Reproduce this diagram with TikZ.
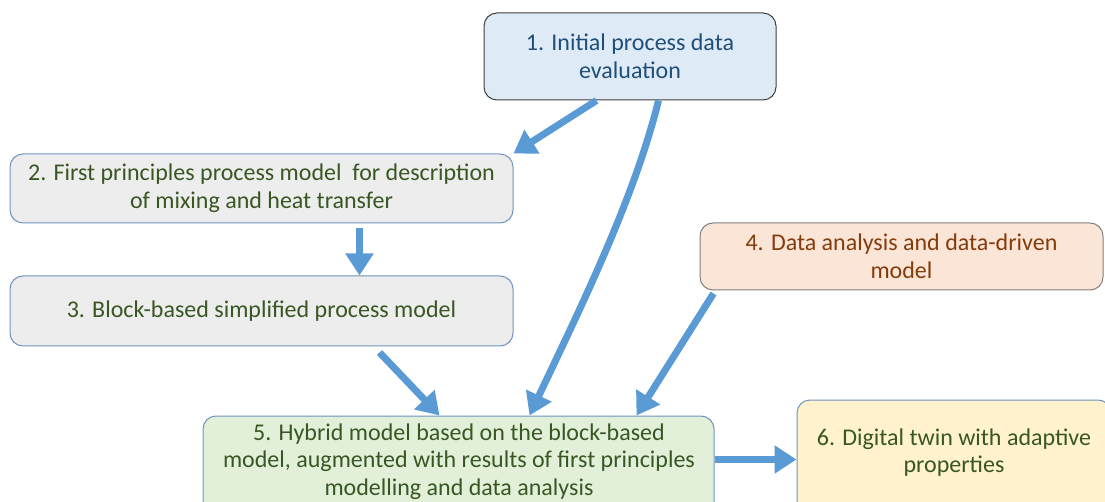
\documentclass[tikz,border=0pt]{standalone}
\usepackage{fontspec}
\setmainfont{Carlito}
\usetikzlibrary{arrows.meta}
\definecolor{arrowblue}{HTML}{5B9BD5}
\definecolor{fillA}{HTML}{DEEBF7}
\definecolor{textA}{HTML}{1F4E79}
\definecolor{fillB}{HTML}{EDEDED}
\definecolor{borderB}{HTML}{6F93BE}
\definecolor{textG}{HTML}{385723}
\definecolor{fillD}{HTML}{FBE5D6}
\definecolor{textD}{HTML}{843C0C}
\definecolor{borderGray}{HTML}{7F7F7F}
\definecolor{fillE}{HTML}{E2F0D9}
\definecolor{fillF}{HTML}{FFF2CC}
\tikzset{
  box/.style={rectangle, rounded corners=13pt, line width=1pt, inner sep=0pt,
              align=center, font=\fontsize{24}{28}\selectfont},
  flow/.style={draw=arrowblue, line width=7pt,
               -{Triangle[width=27pt,length=22pt]}},
  boxtxt/.style={align=center, inner sep=0pt,
               font=\fontsize{24}{27.5}\selectfont, text=textG}
}
\begin{document}
\begin{tikzpicture}[x=1pt,y=-1pt]
\useasboundingbox (0,0) rectangle (1105,502);
\clip (0,0) rectangle (1105,502);
% boxes
\node[box, fill=fillA, draw=black!75, text=textA, minimum width=292pt, minimum height=87pt]
  (n1) at (630,56.5) {1. Initial process data\\evaluation};
\node[box, fill=fillB, draw=borderB, text=textG, minimum width=503pt, minimum height=69pt]
  (n2) at (261.5,188.5) {2. First principles process model~ for description\\of mixing and heat transfer};
\node[box, fill=fillB, draw=borderB, text=textG, minimum width=503pt, minimum height=70pt]
  (n3) at (261.5,311) {3. Block-based simplified process model};
\node[box, fill=fillD, draw=borderGray, text=textD, minimum width=403pt, minimum height=67pt]
  (n4) at (901.5,256.5) {4. Data analysis and data-driven\\model};
\node[box, fill=fillE, draw=borderB, minimum width=511pt, minimum height=114pt]
  (n5) at (458.5,473) {};
\node[boxtxt] (t5) at (459,461.5)
  {5. Hybrid model based on the block-based\\model, augmented with results of first principles\\modelling and data analysis};
\node[box, fill=fillF, draw=borderB, minimum width=314pt, minimum height=130pt]
  (n6) at (954,465) {};
\node[boxtxt] (t6) at (954,452.5) {6. Digital twin with adaptive\\properties};
% arrows
\draw[flow] ([xshift=113pt]n1.south west) -- (n2.north east);
\draw[flow] ([xshift=175pt]n1.south west) .. controls (634,200) and (578,313) .. ([xshift=327pt]n5.north west);
\draw[flow] ([xshift=350pt,yshift=-5pt]n2.south west) -- ([xshift=350pt]n3.north west);
\draw[flow] ([xshift=370pt,yshift=-6pt]n3.south west) -- ([xshift=237pt]n5.north west);
\draw[flow] ([xshift=14pt,yshift=-3pt]n4.south west) -- ([xshift=434pt]n5.north west);
\draw[flow] ([yshift=-44pt]n5.north east) -- ([yshift=-60pt]n6.north west);
\end{tikzpicture}
\end{document}
